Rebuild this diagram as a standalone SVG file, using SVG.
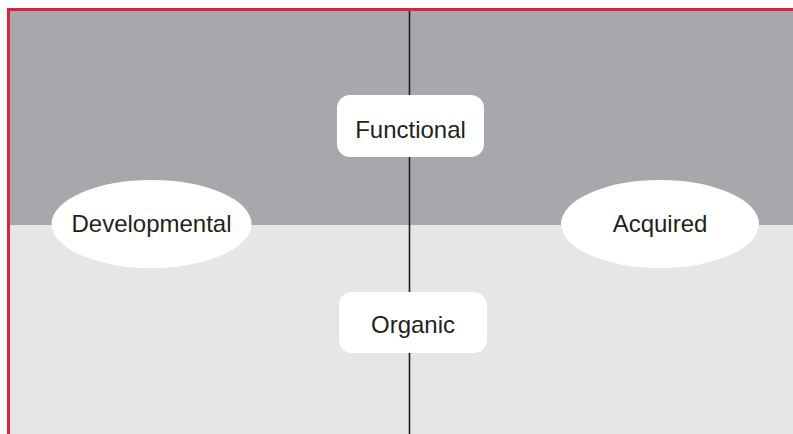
<svg xmlns="http://www.w3.org/2000/svg" width="793" height="434" viewBox="0 0 793 434">
  <style>
    .lbl { font-family: "Liberation Sans", Arial, sans-serif; font-size: 24px; fill: #231f20; text-anchor: middle; }
    .node { fill: #ffffff; }
  </style>
  <rect x="0" y="0" width="793" height="434" fill="#ffffff"/>
  <rect x="10" y="11" width="783" height="214" fill="#a7a8ab"/>
  <rect x="10" y="225" width="783" height="209" fill="#e5e6e7"/>
  <rect x="7" y="8" width="786" height="3" fill="#e21f3d"/>
  <rect x="7" y="8" width="3" height="426" fill="#e21f3d"/>
  <g id="connectors">
    <line x1="409.5" y1="11" x2="409.5" y2="434" stroke="#231f20" stroke-width="1.6"/>
  </g>
  <g id="functional">
    <rect class="node" x="337" y="95" width="147" height="62" rx="13"/>
    <text class="lbl" x="410.5" y="138">Functional</text>
  </g>
  <g id="organic">
    <rect class="node" x="339" y="292" width="148" height="61" rx="13"/>
    <text class="lbl" x="413" y="333">Organic</text>
  </g>
  <g id="developmental">
    <ellipse class="node" cx="151.5" cy="224" rx="100" ry="44"/>
    <text class="lbl" x="151.5" y="232">Developmental</text>
  </g>
  <g id="acquired">
    <ellipse class="node" cx="660" cy="224" rx="99" ry="44"/>
    <text class="lbl" x="660" y="232">Acquired</text>
  </g>
</svg>
